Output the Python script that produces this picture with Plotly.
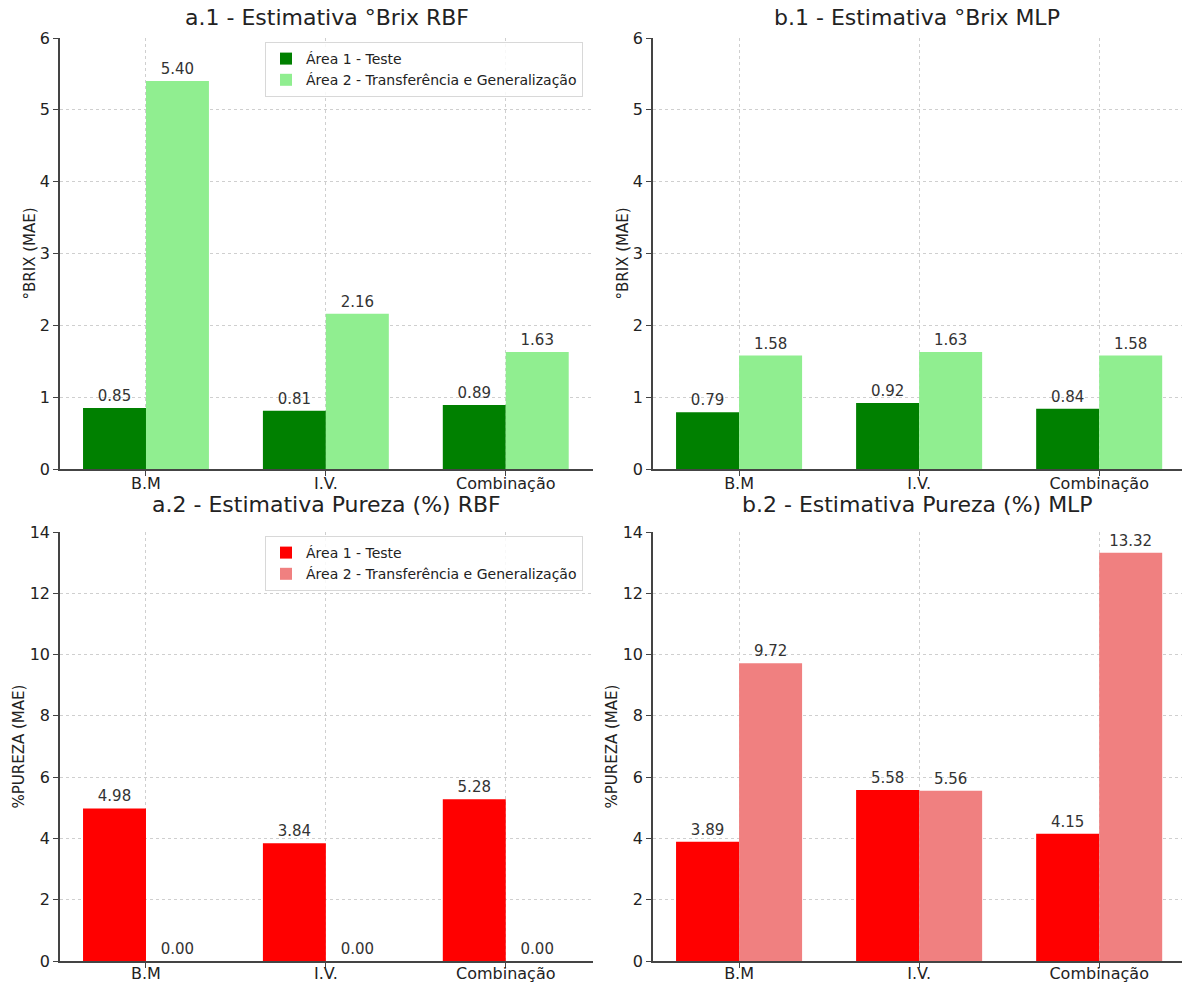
import plotly.graph_objects as go

# Categories and MAE values for each panel
categories = ["B.M", "I.V.", "Combinação"]
series_names = ["Área 1 - Teste", "Área 2 - Transferência e Generalização"]

brix_rbf_area1 = [0.85, 0.81, 0.89]
brix_rbf_area2 = [5.40, 2.16, 1.63]
brix_mlp_area1 = [0.79, 0.92, 0.84]
brix_mlp_area2 = [1.58, 1.63, 1.58]
pureza_rbf_area1 = [4.98, 3.84, 5.28]
pureza_rbf_area2 = [0.00, 0.00, 0.00]
pureza_mlp_area1 = [3.89, 5.58, 4.15]
pureza_mlp_area2 = [9.72, 5.56, 13.32]

titles = [
    "a.1 - Estimativa °Brix RBF",
    "b.1 - Estimativa °Brix MLP",
    "a.2 - Estimativa Pureza (%) RBF",
    "b.2 - Estimativa Pureza (%) MLP",
]

GREEN_DARK = "#008000"
GREEN_LIGHT = "#90EE90"
RED = "#FF0000"
CORAL = "#F08080"

W, H = 1182, 984
FONT = "DejaVu Sans"
AXIS_COLOR = "#444444"
TEXT_COLOR = "#333333"

fig = go.Figure()

panels = [
    # (axis suffix, area1, area2, colors, legend id, show legend)
    ("", brix_rbf_area1, brix_rbf_area2, (GREEN_DARK, GREEN_LIGHT), "legend", True),
    ("2", brix_mlp_area1, brix_mlp_area2, (GREEN_DARK, GREEN_LIGHT), "legend", False),
    ("3", pureza_rbf_area1, pureza_rbf_area2, (RED, CORAL), "legend2", True),
    ("4", pureza_mlp_area1, pureza_mlp_area2, (RED, CORAL), "legend2", False),
]

for suffix, a1, a2, colors, leg, show in panels:
    for name, vals, col in zip(series_names, (a1, a2), colors):
        fig.add_trace(go.Bar(
            x=categories, y=vals, name=name,
            marker=dict(color=col, line=dict(width=0)),
            text=[f"{v:.2f}" for v in vals],
            textposition="outside",
            textfont=dict(family=FONT, size=15, color=TEXT_COLOR),
            cliponaxis=False,
            xaxis="x" + suffix, yaxis="y" + suffix,
            legend=leg, showlegend=show,
        ))

# Panel placement in pixels: (left, right, top, bottom)
boxes = [
    (60, 593, 38, 469),
    (653, 1182, 38, 469),
    (60, 593, 532, 961),
    (653, 1182, 532, 961),
]
x_ranges = [[-0.478, 2.485], [-0.478, 2.46], [-0.478, 2.485], [-0.478, 2.46]]
y_specs = [(6, 1, "°BRIX (MAE)"), (6, 1, "°BRIX (MAE)"),
           (14, 2, "%PUREZA (MAE)"), (14, 2, "%PUREZA (MAE)")]
# title baseline offset above panel top, y-title centre offset left of panel,
# category label pull toward the axis
title_gap = [6, 6, 13, 13]
ytitle_gap = [30, 30, 42, 42]
xlabel_pull = [-6, -6, -8, -8]

layout = {}
annotations = []
for i, ((l, r, t, b), xr, (ymax, dt, ytitle), title) in enumerate(zip(boxes, x_ranges, y_specs, titles)):
    sfx = "" if i == 0 else str(i + 1)
    common = dict(
        showline=True, linecolor=AXIS_COLOR, linewidth=1.5,
        ticks="outside", ticklen=5, tickwidth=1.2, tickcolor=AXIS_COLOR,
        showgrid=True, gridcolor="#cfcfcf", griddash="dot", gridwidth=1,
        zeroline=False, automargin=False,
        tickfont=dict(family=FONT, size=16, color="#222222"),
    )
    layout["xaxis" + sfx] = dict(
        common, domain=[l / W, r / W], anchor="y" + sfx,
        type="category", range=xr, ticklabelstandoff=xlabel_pull[i],
    )
    layout["yaxis" + sfx] = dict(
        common, domain=[1 - b / H, 1 - t / H], anchor="x" + sfx,
        range=[0, ymax], dtick=dt,
    )
    annotations.append(dict(
        text=title, xref="paper", yref="paper",
        x=(l + r) / 2 / W, y=1 - (t - title_gap[i]) / H,
        xanchor="center", yanchor="bottom", showarrow=False,
        font=dict(family=FONT, size=22, color="#222222"),
    ))
    annotations.append(dict(
        text=ytitle, xref="paper", yref="paper",
        x=(l - ytitle_gap[i]) / W, y=1 - (t + b) / 2 / H,
        xanchor="center", yanchor="middle", textangle=-90, showarrow=False,
        font=dict(family=FONT, size=15, color="#222222"),
    ))

legend_style = dict(
    xanchor="right", yanchor="top",
    bgcolor="rgba(255,255,255,0.85)", bordercolor="#d8d8d8", borderwidth=1,
    font=dict(family=FONT, size=14, color="#222222"),
    tracegroupgap=2, itemwidth=30,
)

fig.update_layout(
    **layout,
    annotations=annotations,
    barmode="group", bargap=0.3, bargroupgap=0,
    width=W, height=H,
    margin=dict(l=0, r=0, t=0, b=0, autoexpand=False),
    plot_bgcolor="white", paper_bgcolor="white",
    font=dict(family=FONT),
    legend=dict(legend_style, x=583 / W, y=1 - 42 / H),
    legend2=dict(legend_style, x=583 / W, y=1 - 536 / H),
)

fig.write_html("out.html")
